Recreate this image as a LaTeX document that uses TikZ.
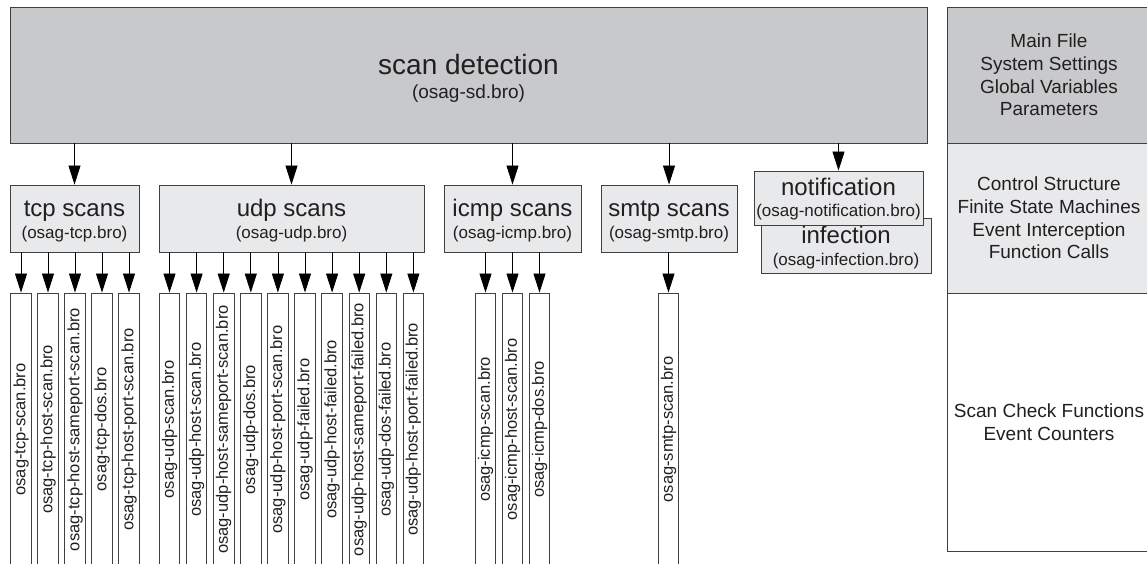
\documentclass[tikz,border=0pt]{standalone}
\usepackage{fontspec}
\usepackage{graphicx}
\setmainfont{Liberation Sans}
\usetikzlibrary{arrows.meta}
\definecolor{dk}{HTML}{C8C9CB}
\definecolor{lt}{HTML}{E8E9EA}
\definecolor{ln}{HTML}{404040}
\definecolor{tx}{HTML}{231F20}
\newcommand\topstrut[1]{\rule{0pt}{#1}}
\newcommand\botstrut[1]{\rule[-#1]{0pt}{#1}}
\begin{document}
\begin{tikzpicture}[x=1pt,y=-1pt,
  box/.style={draw=ln, line width=0.9pt, inner sep=0pt, align=center, text=tx},
  groupbox/.style={box, fill=lt, minimum height=67pt, font=\fontsize{17}{22}\selectfont},
  leaf/.style={box, fill=white, minimum width=20.5pt, minimum height=273pt, font=\fontsize{16.5}{18}\selectfont},
  arr/.style={draw=black, line width=0.8pt, -{Triangle[length=19pt,width=12pt]}},
  panel/.style={box, minimum width=204pt, font=\fontsize{19}{22.7}\selectfont}]
\useasboundingbox (0,0) rectangle (1147,563);
\clip (0,0) rectangle (1147,563);
\fill[white] (0,0) rectangle (1147,563);

% main box
\node[box, fill=dk, minimum width=917pt, minimum height=136pt, font=\fontsize{19}{24}\selectfont] (main) at (468.5,75)
  {{\fontsize{28}{28}\selectfont\topstrut{28pt}scan detection}\\(osag-sd.bro)\botstrut{6pt}};

% right panel
\node[panel, fill=dk, minimum height=136pt] (p1) at (1049,75)
  {Main File\\System Settings\\Global Variables\\Parameters};
\node[panel, fill=lt, minimum height=150pt] (p2) at (1049,218)
  {Control Structure\\Finite State Machines\\Event Interception\\Function Calls};
\node[panel, fill=white, minimum height=258pt] (p3) at (1049,422)
  {Scan Check Functions\\Event Counters};

% group boxes
\node[groupbox, minimum width=129pt] (tcp) at (74.5,218.5) {{\fontsize{24}{24}\selectfont\topstrut{22pt}tcp scans}\\(osag-tcp.bro)\botstrut{5pt}};
\node[groupbox, minimum width=265pt] (udp) at (291.5,218.5) {{\fontsize{24}{24}\selectfont\topstrut{22pt}udp scans}\\(osag-udp.bro)\botstrut{5pt}};
\node[groupbox, minimum width=137pt] (icmp) at (512.5,218.5) {{\fontsize{24}{24}\selectfont\topstrut{22pt}icmp scans}\\(osag-icmp.bro)\botstrut{5pt}};
\node[groupbox, minimum width=136pt] (smtp) at (669,218.5) {{\fontsize{24}{24}\selectfont\topstrut{22pt}smtp scans}\\(osag-smtp.bro)\botstrut{5pt}};
\node[groupbox, minimum width=170pt, minimum height=55pt, font=\fontsize{17}{22}\selectfont] (inf) at (846,245.5) {{\fontsize{24}{24}\selectfont\topstrut{22pt}infection}\\(osag-infection.bro)\botstrut{5pt}};
\node[groupbox, minimum width=169pt, minimum height=54pt, font=\fontsize{17}{21}\selectfont] (notif) at (838.5,198) {{\fontsize{24}{24}\selectfont\topstrut{20pt}notification}\\(osag-notification.bro)\botstrut{5pt}};

% main arrows
\foreach \g in {tcp,udp,icmp,smtp,notif}
  \draw[arr] (main.south -| \g.north) -- (\g.north);

% leaves
\foreach \t [count=\i from 0] in {osag-tcp-scan.bro,osag-tcp-host-scan.bro,osag-tcp-host-sameport-scan.bro,osag-tcp-dos.bro,osag-tcp-host-port-scan.bro}{
  \node[leaf] (tcpL\i) at ({21+27*\i},429.5) {\rotatebox{90}{\t}};
  \draw[arr] (tcpL\i.north |- tcp.south) -- (tcpL\i.north);
}
\foreach \t [count=\i from 0] in {osag-udp-scan.bro,osag-udp-host-scan.bro,osag-udp-host-sameport-scan.bro,osag-udp-dos.bro,osag-udp-host-port-scan.bro,osag-udp-failed.bro,osag-udp-host-failed.bro,osag-udp-host-sameport-failed.bro,osag-udp-dos-failed.bro,osag-udp-host-port-failed.bro}{
  \node[leaf] (udpL\i) at ({169.5+27.1*\i},429.5) {\rotatebox{90}{\t}};
  \draw[arr] (udpL\i.north |- udp.south) -- (udpL\i.north);
}
\foreach \t [count=\i from 0] in {osag-icmp-scan.bro,osag-icmp-host-scan.bro,osag-icmp-dos.bro}{
  \node[leaf] (icmpL\i) at ({485.5+27*\i},429.5) {\rotatebox{90}{\t}};
  \draw[arr] (icmpL\i.north |- icmp.south) -- (icmpL\i.north);
}
\node[leaf] (smtpL0) at (668.5,429.5) {\rotatebox{90}{osag-smtp-scan.bro}};
\draw[arr] (smtpL0.north |- smtp.south) -- (smtpL0.north);
\end{tikzpicture}
\end{document}
